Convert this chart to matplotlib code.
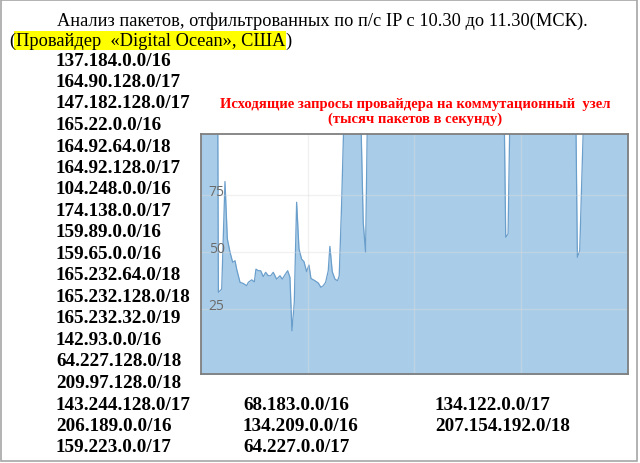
import matplotlib
matplotlib.use("Agg")
import matplotlib.pyplot as plt
from matplotlib.patches import Rectangle
from matplotlib.transforms import offset_copy

# ---- data ----
minutes = [0.0, 2.39, 2.48, 2.95, 3.41, 3.74, 4.12, 4.49, 4.82, 5.05, 5.52, 5.99, 6.45, 6.69,
           7.16, 7.53, 7.76, 8.09, 8.42, 8.79, 9.12, 9.49, 9.82, 10.19, 10.66, 11.13, 11.46,
           11.83, 12.21, 12.53, 12.81, 13.14, 13.47, 13.80, 14.17, 14.50, 14.87, 15.20, 15.48,
           16.04, 16.51, 16.88, 17.21, 17.54, 17.91, 18.14, 18.47, 18.85, 19.22, 19.45, 19.78,
           20.16, 22.45, 22.82, 23.15, 23.43, 42.60, 42.83, 43.16, 43.44, 52.66, 52.89, 53.22,
           53.82, 60.0]
kpps = [115, 115, 32.4, 33.8, 81.1, 55.9, 50.0, 45.6, 46.3, 42.6, 36.8, 36.3, 35.3, 36.8,
        37.9, 37.0, 42.6, 41.9, 41.9, 39.3, 41.2, 39.7, 39.7, 41.2, 38.2, 39.7, 38.2,
        40.1, 41.9, 39.0, 15.5, 28.0, 72.0, 51.5, 47.0, 45.9, 41.5, 44.4, 38.5,
        37.5, 36.5, 34.6, 35.3, 36.8, 41.9, 52.6, 41.5, 38.2, 37.5, 39.7, 70.5,
        115, 115, 63.2, 50.0, 115, 115, 56.6, 58.1, 115, 115, 47.8, 50.7,
        115, 115]
yticks = [25, 50, 75]
ytick_labels = ["25", "50", "75"]

header1 = "Анализ пакетов, отфильтрованных по п/с IP с 10.30 до 11.30(МСК)."
header2 = "Провайдер  «Digital Ocean», США"
chart_title1 = "Исходящие запросы провайдера на коммутационный  узел"
chart_title2 = "(тысяч пакетов в секунду)"
col1 = ["137.184.0.0/16", "164.90.128.0/17", "147.182.128.0/17", "165.22.0.0/16",
        "164.92.64.0/18", "164.92.128.0/17", "104.248.0.0/16", "174.138.0.0/17",
        "159.89.0.0/16", "159.65.0.0/16", "165.232.64.0/18", "165.232.128.0/18",
        "165.232.32.0/19", "142.93.0.0/16", "64.227.128.0/18", "209.97.128.0/18",
        "143.244.128.0/17", "206.189.0.0/16", "159.223.0.0/17"]
col2 = ["68.183.0.0/16", "134.209.0.0/16", "64.227.0.0/17"]
col3 = ["134.122.0.0/17", "207.154.192.0/18"]

W, H = 640, 464
fig = plt.figure(figsize=(6.4, 4.64), dpi=100)
fig.patch.set_facecolor("white")

def fx(px):
    return px / W

def fy(py):
    return 1 - py / H

serif = ["Liberation Serif", "DejaVu Serif"]

# outer frame
fig.add_artist(Rectangle((fx(1), fy(462)), fx(636), 461 / H, transform=fig.transFigure,
                         fill=False, edgecolor="#a6a6a6", lw=1.2))

# header
HS = 13.2
fig.text(fx(57), fy(25.5), header1, family=serif, fontsize=HS, color="black", va="baseline")
t2 = fig.text(fx(15.5), fy(46), header2, family=serif, fontsize=HS, color="black", va="baseline",
              bbox=dict(facecolor="#ffff00", edgecolor="none", pad=0.8))
fig.text(fx(15.5), fy(46), "(", family=serif, fontsize=HS, color="black", va="baseline", ha="right")
fig.add_artist(plt.Annotation(")", xy=(1, 0), xycoords=t2, xytext=(0, 0),
                              textcoords="offset points", family=serif, fontsize=HS,
                              va="bottom", ha="left"))

# IP lists
IS = 13.8
row0 = 65.5
dy = 21.5
for i, s in enumerate(col1):
    fig.text(fx(56), fy(row0 + dy * i), s, family=serif, fontsize=IS, fontweight="bold",
             va="baseline")
for i, s in enumerate(col2):
    fig.text(fx(243), fy(row0 + dy * (16 + i)), s, family=serif, fontsize=IS, fontweight="bold",
             va="baseline")
for i, s in enumerate(col3):
    fig.text(fx(435), fy(row0 + dy * (16 + i)), s, family=serif, fontsize=IS, fontweight="bold",
             va="baseline")

# chart title
fig.text(fx(415), fy(108.3), chart_title1, family=serif, fontsize=10.5, fontweight="bold",
         color="#ff0000", ha="center", va="baseline")
fig.text(fx(415), fy(123.3), chart_title2, family=serif, fontsize=10.5, fontweight="bold",
         color="#ff0000", ha="center", va="baseline")

# chart
ax = fig.add_axes([fx(200.7), fy(375), fx(628) - fx(200.7), (375 - 135) / H])
ax.set_facecolor("white")
ax.set_xlim(0, 60)
ax.set_ylim(-3.5, 102)
ax.set_xticks([15, 30, 45])
ax.set_yticks(yticks)
ax.set_axisbelow(False)
ax.grid(True, color="#dcdcdc", lw=1.0, alpha=0.4)
ax.fill_between(minutes, kpps, -10, color="#a9cde9", lw=0, zorder=1)
ax.plot(minutes, kpps, color="#6a9ecb", lw=0.9, zorder=2)
ax.tick_params(axis="both", length=0, labelbottom=False, labelleft=False)
label_tr = offset_copy(ax.get_yaxis_transform(), fig=fig, x=24 / 100 * 72 / 72, y=4 / 100,
                       units="inches")
for v, s in zip(yticks, ytick_labels):
    ax.text(0, v, s, transform=label_tr, ha="right", va="center", fontsize=10,
            family=["Open Sans", "DejaVu Sans"], color="#6b6b6b", zorder=5)
for sp in ax.spines.values():
    sp.set_color("#7f7f7f")
    sp.set_linewidth(1.3)
    sp.set_zorder(4)

fig.savefig("out.png", dpi=100)
